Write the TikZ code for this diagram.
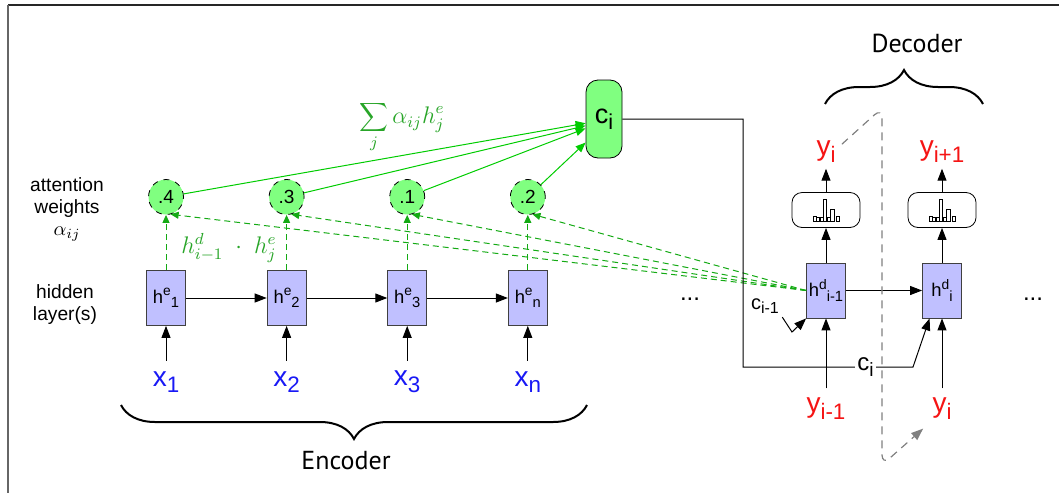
\documentclass[tikz,border=0pt]{standalone}
\usepackage{fontspec}
\setmainfont{Liberation Sans}
\newfontfamily\partfont{PT Sans}
\usetikzlibrary{positioning, arrows.meta, decorations.pathreplacing}

\definecolor{hidblue}{RGB}{192,192,255}
\definecolor{attfill}{RGB}{128,255,128}
\definecolor{attgreen}{RGB}{0,204,0}
\definecolor{scoregreen}{RGB}{20,170,20}
\definecolor{labelgreen}{RGB}{40,165,40}
\definecolor{inblue}{RGB}{25,25,245}
\definecolor{outred}{RGB}{245,20,20}

\newcommand{\lsub}[1]{\raisebox{-0.45ex}{\scalebox{0.8}{#1}}}
\newcommand{\hsup}[1]{\raisebox{0.75ex}{\scalebox{0.75}{#1}}}

\begin{document}
\begin{tikzpicture}
    [
        x=0.5pt, y=0.5pt, on grid, >={Triangle[length=6pt, width=4.5pt]},
        hidden_node/.style={rectangle, draw=black!75, fill=hidblue, minimum width=19.5pt, minimum height=27.5pt, inner sep=0pt, font=\fontsize{9.2}{11}\selectfont},
        weight_node/.style={circle, dashed, draw=black, fill=attfill, minimum size=17.5pt, inner sep=0pt, font=\fontsize{9.5}{11}\selectfont},
        context_node/.style={rectangle, rounded corners=6pt, draw=black, fill=attfill, minimum width=18pt, minimum height=39pt, inner sep=0pt, font=\fontsize{13.5}{15}\selectfont},
        softmax_node/.style={rectangle, rounded corners=5pt, draw=black, minimum width=34pt, minimum height=17.5pt},
        x_label/.style={text=inblue, font=\fontsize{14}{16}\selectfont, inner sep=5pt},
        y_label/.style={text=outred, font=\fontsize{14}{16}\selectfont, inner sep=4.5pt},
        side_label/.style={align=center, font=\fontsize{9.6}{11}\selectfont},
        part_label/.style={font=\partfont\fontsize{13}{15}\selectfont},
        brace_line/.style={decorate, decoration={brace, amplitude=17pt}, line width=1pt},
        att_line/.style={->, >={Triangle[length=5pt, width=4pt]}, color=attgreen, line width=0.5pt},
        score_line/.style={->, >={Triangle[length=4pt, width=3.5pt]}, dash pattern=on 3pt off 2pt, color=scoregreen, line width=0.5pt},
        feed_line/.style={->, color=gray, dash pattern=on 4pt off 3pt, rounded corners=5pt, line width=0.6pt},
    ]
        \useasboundingbox (0,0) rectangle (1059,-493) ;
        \draw[line width=0.8pt, color=black!85] (8,-5) -- (1059,-5) ;
        \draw[line width=0.9pt, color=black!60] (8,-5) -- (8,-493) ;

        \node[side_label] (att_lbl) at (67,-209) {attention\\weights\\$\alpha_{ij}$} ;
        \node[side_label] (hid_lbl) at (65,-305) {hidden\\layer(s)} ;

        \node[hidden_node] (he1) at (166,-298) {h\hsup{e}\lsub{1}} ;
        \node[hidden_node] (he2) [right = 60.3pt of he1] {h\hsup{e}\lsub{2}} ;
        \node[hidden_node] (he3) [right = 60.3pt of he2] {h\hsup{e}\lsub{3}} ;
        \node[hidden_node] (hen) [right = 60.3pt of he3] {h\hsup{e}\lsub{n}} ;
        \node[weight_node] (w1) [above = 50.5pt of he1] {.4} ;
        \node[weight_node] (w2) [above = 50.5pt of he2] {.3} ;
        \node[weight_node] (w3) [above = 50.5pt of he3] {.1} ;
        \node[weight_node] (w4) [above = 50.5pt of hen] {.2} ;
        \node[x_label] (x1) [below = 42pt of he1] {x\lsub{1}} ;
        \node[x_label] (x2) [below = 42pt of he2] {x\lsub{2}} ;
        \node[x_label] (x3) [below = 42pt of he3] {x\lsub{3}} ;
        \node[x_label] (xn) [below = 42pt of hen] {x\lsub{n}} ;
        \node[font=\fontsize{12}{14}\selectfont] (dots_enc) at (690,-299) {...} ;

        \node[context_node] (ci) at (604,-119) {c\lsub{i}} ;
        \node[text=labelgreen, font=\fontsize{12}{14}\selectfont] (sum_lbl) at (402,-127) {$\displaystyle\sum_j \alpha_{ij} h^e_j$} ;
        \node[text=labelgreen, font=\fontsize{12}{14}\selectfont] (dot_lbl) at (229,-248) {$h^d_{i-1}\;\cdot\;h^e_j$} ;

        \node[hidden_node] (hd1) at (826,-290.5) {h\hsup{d}\lsub{i-1}} ;
        \node[hidden_node] (hd2) [right = 58pt of hd1] {h\hsup{d}\lsub{i}} ;
        \node[softmax_node] (sm1) [above = 40.25pt of hd1] {} ;
        \node[softmax_node] (sm2) [above = 40.25pt of hd2] {} ;
        \node[y_label, inner sep=3pt] (yo1) [above = 29.2pt of sm1] {y\lsub{i}} ;
        \node[y_label, inner sep=3pt] (yo2) [above = 29.2pt of sm2] {y\lsub{i+1}} ;
        \node[y_label] (yin1) [below = 59pt of hd1] {y\lsub{i-1}} ;
        \node[y_label] (yin2) [below = 59pt of hd2] {y\lsub{i}} ;
        \node[font=\fontsize{10}{12}\selectfont, inner sep=1.5pt] (cprev) at (765,-306) {c\lsub{i-1}} ;
        \node[font=\fontsize{12}{14}\selectfont] (dots_dec) at (1033,-299) {...} ;

        \foreach \sm in {sm1, sm2} {
            \foreach \dx/\w/\h in {-13/3/5, -9.5/3/4, -6/3/4, -2.5/3/22, 1/3/4, 4.5/4/12, 10/3.5/5} {
                \draw[line width=0.3pt, fill=white] ([shift={(\dx,-11)}]\sm.center) rectangle ++(\w,\h) ;
            }
        }

        \coordinate (enc_l) at (121,-405) ;
        \coordinate (enc_r) at (587,-405) ;
        \coordinate (dec_l) at (825,-104) ;
        \coordinate (dec_r) at (983,-104) ;
        \draw[brace_line] (enc_r) -- (enc_l) ;
        \draw[brace_line] (dec_l) -- (dec_r) ;
        \node[part_label] (enc_lbl) at (346,-461) {Encoder} ;
        \node[part_label] (dec_lbl) at (917,-43) {Decoder} ;

        \draw[->, line width=0.5pt] (he1) -- (he2) ;
        \draw[->, line width=0.5pt] (he2) -- (he3) ;
        \draw[->, line width=0.5pt] (he3) -- (hen) ;
        \draw[->, line width=0.5pt] (x1) -- (he1) ;
        \draw[->, line width=0.5pt] (x2) -- (he2) ;
        \draw[->, line width=0.5pt] (x3) -- (he3) ;
        \draw[->, line width=0.5pt] (xn) -- (hen) ;

        \draw[score_line] (he1) -- (w1) ;
        \draw[score_line] (he2) -- (w2) ;
        \draw[score_line] (he3) -- (w3) ;
        \draw[score_line] (hen) -- (w4) ;
        \draw[score_line] (hd1.west) -- (w1.-75) ;
        \draw[score_line] (hd1.west) -- (w2.-75) ;
        \draw[score_line] (hd1.west) -- (w3.-75) ;
        \draw[score_line] (hd1.west) -- (w4.-75) ;

        \draw[att_line] (w1) -- (ci.193) ;
        \draw[att_line] (w2) -- (ci.200) ;
        \draw[att_line] (w3) -- (ci.207) ;
        \draw[att_line] (w4) -- (ci.232) ;

        \coordinate (ci_down) at (743,-367) ;
        \coordinate (ci_up) at (913,-367) ;
        \draw[->, line width=0.5pt] (ci.east) -| (ci_down) -- node[pos=0.72, fill=white, inner sep=1pt, font=\fontsize{12}{14}\selectfont] (ci_lbl) {c\lsub{i}} (ci_up) -- (hd2.246) ;
        \coordinate (cprev_knee) at (792,-332) ;
        \draw[->, line width=0.5pt] (cprev.south east) -- (cprev_knee) -- (hd1.south west) ;

        \draw[->, line width=0.5pt] (hd1) -- (hd2) ;
        \draw[->, line width=0.5pt] (hd1) -- (sm1) ;
        \draw[->, line width=0.5pt] (hd2) -- (sm2) ;
        \draw[->, line width=0.5pt] (sm1) -- (yo1) ;
        \draw[->, line width=0.5pt] (sm2) -- (yo2) ;
        \draw[->, line width=0.5pt] (yin1) -- (hd1) ;
        \draw[->, line width=0.5pt] (yin2) -- (hd2) ;

        \coordinate (loop_top) at (882,-108) ;
        \coordinate (loop_bot) at (882,-465) ;
        \draw[feed_line] (yo1.25) -- (loop_top) -- (loop_bot) -- (yin2.south west) ;
    \end{tikzpicture}
\end{document}
